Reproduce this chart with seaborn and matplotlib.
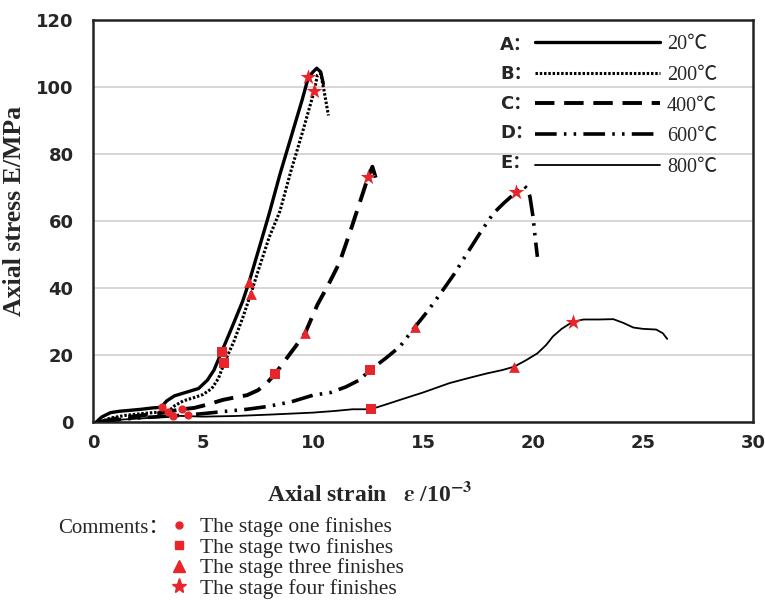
import matplotlib
matplotlib.use("Agg")
import matplotlib.pyplot as plt
from matplotlib.lines import Line2D
from matplotlib.ticker import MultipleLocator
import seaborn as sns

# stress-strain curves, strain in 1e-3, stress in MPa
a_strain = [0.15, 0.4, 0.8, 1.2, 1.7, 2.2, 2.7, 3.1, 3.35, 3.7, 4.2, 4.8, 5.2, 5.5, 5.85, 6.3, 6.8, 7.1,
            7.6, 8.0, 8.5, 9.0, 9.5, 9.79, 10.0, 10.17, 10.35, 10.47]
a_stress = [0, 1.5, 2.8, 3.2, 3.5, 3.8, 4.2, 4.4, 6.3, 7.8, 8.8, 10.0, 12.5, 15.5, 21, 28, 36, 41.9,
            53, 62, 74, 85, 96, 102.9, 104.5, 105.6, 104.5, 101]

b_strain = [0.3, 0.8, 1.5, 2.2, 2.9, 3.42, 3.7, 4.1, 4.6, 5.0, 5.4, 5.7, 5.97, 6.4, 6.8, 7.17, 7.6, 8.0,
            8.5, 9.0, 9.5, 10.06, 10.2, 10.35, 10.5, 10.7]
b_stress = [0, 1.2, 2.0, 2.5, 2.9, 3.1, 4.8, 6.3, 7.3, 8.2, 10.0, 13, 17.7, 24, 31, 38.2, 47, 55,
            63, 75, 86, 98.9, 103.5, 104, 99, 91.5]

c_strain = [0.3, 1.0, 2.0, 3.0, 4.03, 4.6, 5.2, 5.9, 6.5, 7.0, 7.5, 7.9, 8.27, 8.8, 9.2, 9.64, 10.2,
            10.7, 11.2, 11.7, 12.1, 12.51, 12.7, 12.8, 12.9]
c_stress = [0, 1.0, 1.8, 2.6, 3.8, 4.2, 5.2, 6.6, 7.4, 8.0, 9.5, 11.6, 14.3, 19, 22.5, 26.5, 35,
            41, 47.5, 57, 65, 73.2, 76.2, 74, 71.7]

d_strain = [0.3, 1.0, 2.0, 3.0, 4.33, 5.0, 5.9, 7.0, 7.9, 9.0, 10.0, 10.8, 11.5, 12.1, 12.6, 13.3, 13.95,
            14.64, 15.2, 15.8, 16.4, 17.0, 17.6, 18.2, 18.7, 19.23, 19.45, 19.6, 19.75, 19.86, 20.0,
            20.1, 20.2]
d_stress = [0, 0.6, 1.2, 1.6, 2.1, 2.5, 3.1, 3.8, 4.6, 6.0, 8.0, 8.8, 10.5, 12.5, 15.5, 19, 22.5,
            28.4, 33, 38.4, 44, 50.3, 56.5, 62.3, 65.5, 68.6, 70, 70.5, 69.5, 67.3, 61.3,
            55, 49.3]

e_strain = [0.2, 1.0, 2.0, 3.0, 3.62, 5.0, 6.5, 8.0, 9.0, 10.0, 11.0, 11.8, 12.62, 13.3, 14.0, 15.0,
            16.2, 17.0, 17.9, 18.6, 19.14, 19.7, 20.2, 20.6, 20.9, 21.3, 21.8, 22.3, 23.0, 23.65,
            24.1, 24.56, 25.0, 25.6, 25.9, 26.1]
e_stress = [0, 0.6, 1.0, 1.4, 1.9, 1.6, 1.8, 2.2, 2.5, 2.8, 3.3, 3.8, 3.8, 5.2, 6.7, 8.8,
            11.6, 13.0, 14.5, 15.5, 16.5, 18.5, 20.5, 23.0, 25.5, 27.8, 29.9, 30.6, 30.6, 30.7,
            29.6, 28.2, 27.8, 27.6, 26.5, 24.8]

# points where each stage ends (A..E)
stage1_strain = [3.12, 3.42, 3.62, 4.03, 4.33]
stage1_stress = [4.4, 3.1, 1.9, 3.8, 2.1]
stage2_strain = [5.85, 5.97, 8.27, 12.6, 12.62]
stage2_stress = [21, 17.7, 14.3, 15.5, 3.8]
stage3_strain = [7.1, 7.17, 9.64, 14.64, 19.14]
stage3_stress = [41.9, 38.2, 26.5, 28.4, 16.5]
stage4_strain = [9.79, 10.06, 12.51, 19.23, 21.8]
stage4_stress = [102.9, 98.9, 73.2, 68.6, 29.9]

curve_letters = ["A：", "B：", "C：", "D：", "E："]
curve_temps = ["20℃", "200℃", "400℃", "600℃", "800℃"]
stage_labels = ["The stage one finishes", "The stage two finishes",
                "The stage three finishes", "The stage four finishes"]

sns.set_style("white")
plt.rcParams["font.family"] = ["Liberation Serif", "Noto Sans CJK SC"]
plt.rcParams["mathtext.fontset"] = "stix"

red = "#e8252a"
fig = plt.figure(figsize=(7.65, 6), dpi=100)
ax = fig.add_axes([93 / 765, 1 - 422 / 600, 660 / 765, 402 / 600])

styles = [
    (a_strain, a_stress, "-", 2.4),
    (b_strain, b_stress, (0, (0.8, 0.6)), 2.2),
    (c_strain, c_stress, (0, (5, 2.5)), 2.8),
    (d_strain, d_stress, (0, (6, 2, 0.7, 2, 0.7, 2)), 2.6),
    (e_strain, e_stress, "-", 1.3),
]
handles = []
for xs, ys, ls, lw in styles:
    sns.lineplot(x=xs, y=ys, ax=ax, color="black", lw=lw, ls=ls, sort=False,
                 estimator=None, zorder=3)
    handles.append(Line2D([], [], color="black", lw=lw, ls=ls))

marks = [
    (stage1_strain, stage1_stress, "o", 35),
    (stage2_strain, stage2_stress, "s", 45),
    (stage3_strain, stage3_stress, "^", 60),
    (stage4_strain, stage4_stress, "*", 140),
]
for xs, ys, m, s in marks:
    sns.scatterplot(x=xs, y=ys, ax=ax, marker=m, s=s, color=red, linewidth=0, zorder=5)

ax.set_xlim(0, 30)
ax.set_ylim(0, 120)
ax.xaxis.set_major_locator(MultipleLocator(5))
ax.xaxis.set_minor_locator(MultipleLocator(2.5))
ax.yaxis.set_major_locator(MultipleLocator(20))
ax.yaxis.set_minor_locator(MultipleLocator(4))
ax.yaxis.grid(True, color="#cfcfcf", lw=1.2)
ax.set_axisbelow(True)
for sp in ax.spines.values():
    sp.set_color("#222222")
    sp.set_linewidth(1.8)

ax.tick_params(axis="x", which="major", direction="in", length=7, width=1.5, pad=9)
ax.tick_params(axis="x", which="minor", direction="out", length=5, width=1.5)
ax.tick_params(axis="y", which="both", direction="in", length=5, width=1.5, pad=14)
for lab in ax.get_xticklabels() + ax.get_yticklabels():
    lab.set_fontfamily("DejaVu Sans")
    lab.set_fontweight("bold")
    lab.set_fontsize(13)

ax.set_ylabel("Axial stress E/MPa", fontsize=18.5, fontweight="bold")
ax.yaxis.set_label_coords(-0.102, 0.525)
ax.set_xlabel(r"Axial strain   $\boldsymbol{\varepsilon}$ /10$^{\mathbf{-3}}$", fontsize=17,
              fontweight="bold")
ax.xaxis.set_label_coords(0.42, -0.15)

# curve key: letter column + line column
blank = [Line2D([], [], color="none") for _ in curve_letters]
leg = ax.legend(blank + handles, curve_letters + curve_temps, ncol=2, loc="upper left",
                bbox_to_anchor=(0.417, 0.962), frameon=False, fontsize=14.5,
                handlelength=6.2, handletextpad=0.35, columnspacing=0.1,
                labelspacing=0.57, borderpad=0, borderaxespad=0)
for t in leg.get_texts()[:5]:
    t.set_fontfamily(["DejaVu Sans", "Noto Sans CJK SC"])
    t.set_fontweight("bold")
    t.set_fontsize(13)

# stage key below the axes
stage_handles = [Line2D([], [], ls="none", marker=m, color=red, markersize=ms)
                 for m, ms in zip(["o", "s", "^", "*"], [5, 6, 8, 11])]
fig.legend(stage_handles, stage_labels, loc="upper left", bbox_to_anchor=(166 / 765, 1 - 517 / 600),
           frameon=False, fontsize=15.5, handlelength=1.2, handletextpad=0.4, labelspacing=0.02,
           borderpad=0, borderaxespad=0)
fig.text(58 / 765, 1 - 528 / 600, "Comments：", fontsize=15, va="center")

fig.savefig("out.png", dpi=100)
